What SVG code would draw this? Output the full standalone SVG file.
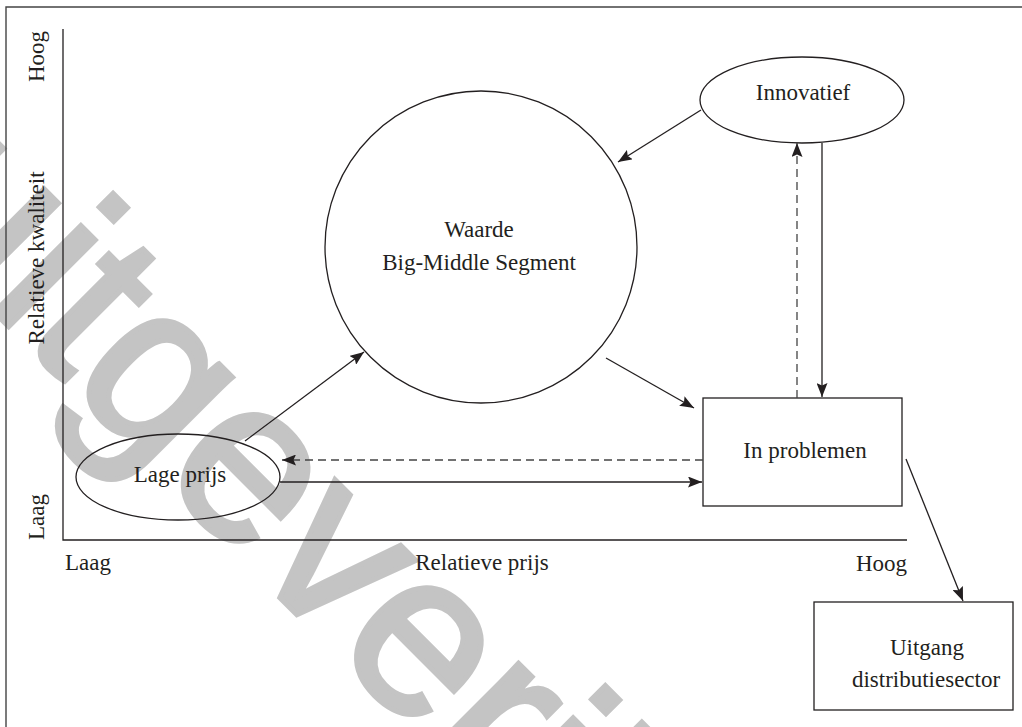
<svg xmlns="http://www.w3.org/2000/svg" width="1022" height="727" viewBox="0 0 1022 727">
  <style>
    .lbl { font-family: "Liberation Serif", "Times New Roman", serif; font-size: 23px; fill: #231f20; }
    .mid { text-anchor: middle; }
    .shape { fill: none; stroke: #231f20; stroke-width: 1.3; }
    .edge { fill: none; stroke: #231f20; stroke-width: 1.3; }
    .dash { stroke-dasharray: 8 5; stroke: #444; }
    .frame { fill: none; stroke: #444; stroke-width: 1.4; }
    .mark { font-family: "Liberation Sans", Arial, sans-serif; font-size: 232px; fill: #c4c4c4; stroke: #c4c4c4; stroke-width: 5; stroke-linejoin: miter; }
  </style>
  <defs>
    <marker id="head" markerUnits="userSpaceOnUse" viewBox="0 0 14 11" markerWidth="14" markerHeight="11" refX="14" refY="5.5" orient="auto">
      <path d="M0,0 L14,5.5 L0,11 L2.5,5.5 z" fill="#231f20"/>
    </marker>
  </defs>

  <rect width="1022" height="727" fill="#ffffff"/>

  <!-- background watermark word -->
  <text class="mark" transform="translate(-108,210) rotate(45)">uitgeverij</text>

  <!-- page frame (top and left edges) -->
  <path class="frame" d="M6,727 V7 H1022"/>

  <!-- axes -->
  <g id="axes">
    <path class="edge" d="M63,29 V540 H907"/>
    <text class="lbl" transform="translate(44,82) rotate(-90)">Hoog</text>
    <text class="lbl mid" transform="translate(44,258) rotate(-90)">Relatieve kwaliteit</text>
    <text class="lbl" transform="translate(44,540) rotate(-90)">Laag</text>
    <text class="lbl" x="65" y="570">Laag</text>
    <text class="lbl mid" x="482" y="570">Relatieve prijs</text>
    <text class="lbl" x="907" y="571" text-anchor="end">Hoog</text>
  </g>

  <g id="node-waarde">
    <circle class="shape" cx="481" cy="247" r="156"/>
    <text class="lbl mid" x="479" y="237">Waarde</text>
    <text class="lbl mid" x="479" y="270">Big-Middle Segment</text>
  </g>

  <g id="node-innovatief">
    <ellipse class="shape" cx="802" cy="100" rx="102" ry="43"/>
    <text class="lbl mid" x="803" y="100">Innovatief</text>
  </g>

  <g id="node-lage-prijs">
    <ellipse class="shape" cx="178" cy="477" rx="102" ry="43"/>
    <text class="lbl mid" x="180" y="482">Lage prijs</text>
  </g>

  <g id="node-in-problemen">
    <rect class="shape" x="703" y="398" width="199" height="108"/>
    <text class="lbl mid" x="805" y="458">In problemen</text>
  </g>

  <g id="node-uitgang">
    <rect class="shape" x="814" y="602" width="199" height="108"/>
    <text class="lbl mid" x="927" y="655">Uitgang</text>
    <text class="lbl mid" x="926" y="687">distributiesector</text>
  </g>

  <g id="connectors">
    <line class="edge" x1="245" y1="441" x2="364" y2="352" marker-end="url(#head)"/>
    <line class="edge" x1="606" y1="358" x2="694" y2="408" marker-end="url(#head)"/>
    <line class="edge" x1="701" y1="110" x2="618" y2="162" marker-end="url(#head)"/>
    <line class="edge dash" x1="797" y1="398" x2="797" y2="143" marker-end="url(#head)"/>
    <line class="edge" x1="822" y1="143" x2="822" y2="397" marker-end="url(#head)"/>
    <line class="edge dash" x1="703" y1="460" x2="282" y2="460" marker-end="url(#head)"/>
    <line class="edge" x1="280" y1="482" x2="702" y2="482" marker-end="url(#head)"/>
    <line class="edge" x1="906" y1="459" x2="963" y2="601" marker-end="url(#head)"/>
  </g>
</svg>
